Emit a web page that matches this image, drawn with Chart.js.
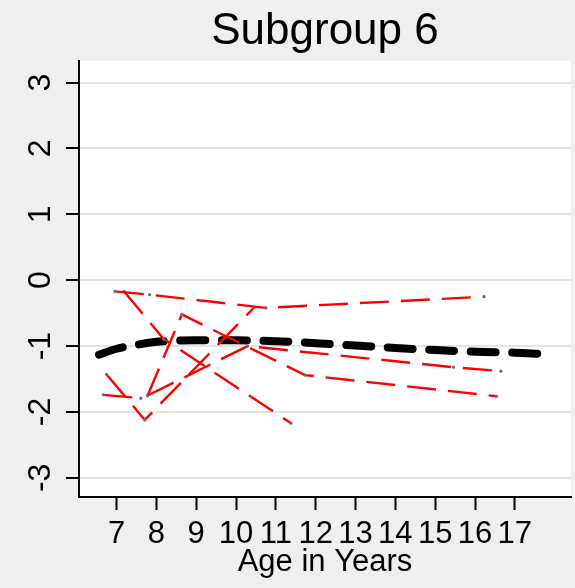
<!DOCTYPE html>
<html>
<head>
<meta charset="utf-8">
<script src="https://cdn.jsdelivr.net/npm/chart.js@4/dist/chart.umd.min.js"></script>
<style>
    body { margin: 0; background: #efefef; }
    canvas { display: block; }
</style>
</head>
<body>
<canvas id="myChart" width="575" height="588"></canvas>
<script>
// tick labels
let xTicks = [7, 8, 9, 10, 11, 12, 13, 14, 15, 16, 17];
let yTicks = [-3, -2, -1, 0, 1, 2, 3];

// mean trajectory (thick black dashes)
let meanAge = [6.56, 7, 7.5, 8, 8.5, 9, 10, 11, 12, 13, 14, 15, 16, 17, 17.65];
let meanScore = [-1.13, -1.04, -0.98, -0.935, -0.915, -0.91, -0.912, -0.925, -0.955, -0.99, -1.03, -1.06, -1.085, -1.10, -1.117];

// individual trajectories (red dashes)
let s1Age = [6.96, 7.83, 10.75, 16.23];
let s1Score = [-0.17, -0.22, -0.42, -0.25];
let s2Age = [7.19, 8.18, 11.38];
let s2Score = [-0.17, -0.89, -2.17];
let s3Age = [6.75, 7.71, 10.46];
let s3Score = [-1.43, -2.12, -0.41];
let s4Age = [6.67, 7.61];
let s4Score = [-1.74, -1.79];
let s5Age = [7.78, 10.29, 15.46, 16.65];
let s5Score = [-1.75, -1.0, -1.32, -1.38];
let s6Age = [7.78, 8.64, 11.73, 16.54];
let s6Score = [-1.75, -0.52, -1.44, -1.76];

let font = 'Liberation Sans, Arial, Helvetica, sans-serif';

function toPoints(xs, ys) {
    return xs.map((x, i) => ({ x: x, y: ys[i] }));
}

function subject(xs, ys) {
    return {
        data: toPoints(xs, ys),
        showLine: true,
        borderColor: '#ff0000',
        borderWidth: 2.4,
        borderDash: [29, 12],
        pointRadius: 1.6,
        pointBorderWidth: 0,
        pointBackgroundColor: '#6e6e6e'
    };
}

let subjects = [
    subject(s1Age, s1Score),
    subject(s2Age, s2Score),
    subject(s3Age, s3Score),
    subject(s4Age, s4Score),
    subject(s5Age, s5Score),
    subject(s6Age, s6Score)
];

let meanLine = {
    data: toPoints(meanAge, meanScore),
    showLine: true,
    borderColor: '#000000',
    borderWidth: 8,
    borderDash: [25, 16.5],
    borderCapStyle: 'round',
    pointRadius: 0,
    tension: 0.3
};

// white plot region on a light grey page
let plotBackground = {
    id: 'plotBackground',
    beforeDraw(chart) {
        let ctx = chart.ctx;
        let area = chart.chartArea;
        ctx.save();
        ctx.fillStyle = '#efefef';
        ctx.fillRect(0, 0, chart.width, chart.height);
        ctx.fillStyle = '#ffffff';
        ctx.fillRect(area.left, area.top, area.right - area.left, area.bottom - area.top);
        ctx.restore();
    }
};

let config = {
    type: 'scatter',
    data: {
        datasets: subjects.concat([meanLine])
    },
    options: {
        responsive: false,
        devicePixelRatio: 1,
        animation: false,
        layout: { padding: { left: 0, right: 2, top: 0, bottom: 0 } },
        plugins: {
            legend: { display: false },
            tooltip: { enabled: false },
            title: {
                display: true,
                fullSize: false,
                text: 'Subgroup 6',
                color: '#000000',
                font: { family: font, size: 44, weight: 'normal' },
                padding: { top: 5, bottom: 3 }
            }
        },
        scales: {
            x: {
                type: 'linear',
                min: 6.0575,
                max: 18.41,
                afterBuildTicks: scale => {
                    scale.ticks = xTicks.map(v => ({ value: v }));
                },
                afterFit: scale => {
                    scale.height = 91;
                },
                grid: {
                    drawOnChartArea: false,
                    tickLength: 13,
                    tickColor: '#000000',
                    tickWidth: 2
                },
                border: { color: '#000000', width: 2 },
                ticks: {
                    color: '#000000',
                    font: { family: font, size: 31 },
                    padding: 6,
                    maxRotation: 0,
                    autoSkip: false
                },
                title: {
                    display: true,
                    text: 'Age in Years',
                    color: '#000000',
                    font: { family: font, size: 31 },
                    padding: { top: 0, bottom: 7 }
                }
            },
            y: {
                min: -3.29,
                max: 3.33,
                afterBuildTicks: scale => {
                    scale.ticks = yTicks.map(v => ({ value: v }));
                },
                afterFit: scale => {
                    scale.width = 79;
                },
                grid: {
                    color: '#e4e4e4',
                    lineWidth: 2,
                    tickLength: 13,
                    tickColor: '#000000',
                    tickWidth: 2
                },
                border: { color: '#000000', width: 2 },
                ticks: {
                    color: '#000000',
                    font: { family: font, size: 32 },
                    minRotation: 90,
                    maxRotation: 90,
                    crossAlign: 'center',
                    padding: 11
                }
            }
        }
    },
    plugins: [plotBackground]
};

let myChart = new Chart(document.getElementById('myChart'), config);
</script>
</body>
</html>
